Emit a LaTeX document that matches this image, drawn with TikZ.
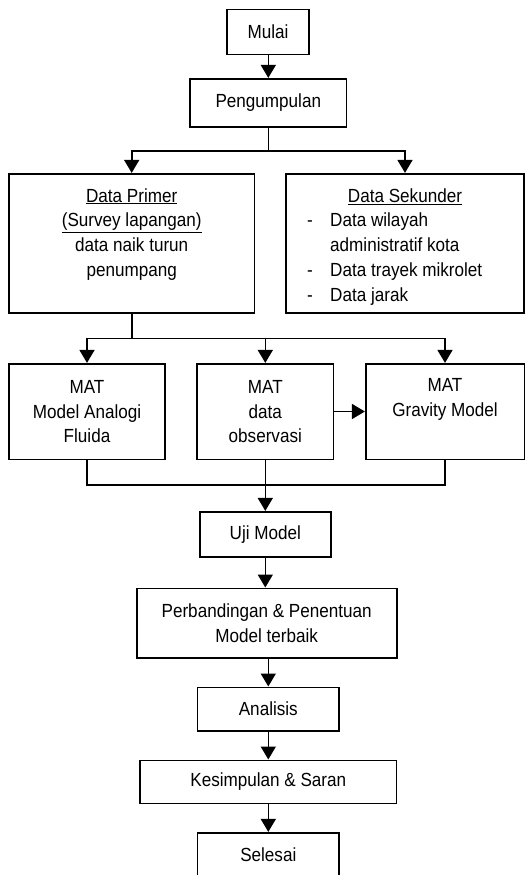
\documentclass[tikz,border=0pt]{standalone}
\usepackage{fontspec}
\setmainfont[FakeStretch=0.9]{Liberation Sans}
\usetikzlibrary{arrows.meta}
\begin{document}
\begin{tikzpicture}[x=1pt,y=-1pt,
  box/.style={draw, line width=1.6pt, inner sep=0pt},
  txt/.style={inner sep=0pt, align=center, font=\fontsize{19}{24.7}\selectfont},
  ln/.style={line width=1.6pt},
  arr/.style={line width=1.6pt, -{Triangle[width=15pt,length=13pt]}}]
\useasboundingbox (0,0) rectangle (526,875);
\clip (0,0) rectangle (526,875);
% boxes
\node[box, minimum width=82pt, minimum height=45pt] (mulai) at (268,32) {};
\node[txt] (tmulai) at (268,32) {Mulai};
\node[box, minimum width=156.7pt, minimum height=48pt] (peng) at (268.3,102.7) {};
\node[txt] (tpeng) at (268.3,102.7) {Pengumpulan};
\node[box, minimum width=245.3pt, minimum height=139pt] (primer) at (131.7,243.2) {};
\node[txt] (tprimer) at (131.7,234.2) {\underline{Data Primer}\\\underline{(Survey lapangan)}\\data naik turun\\penumpang};
\node[box, minimum width=238pt, minimum height=139pt] (sekunder) at (405,243.2) {};
\node[txt] (tsek) at (405,196.7) {\underline{Data Sekunder}};
\node[txt, align=left, anchor=north west] (tseklist) at (307,209.5) {%
\begin{tabular}{@{}p{23pt}@{}l@{}}
- & Data wilayah\\
 & administratif kota\\
- & Data trayek mikrolet\\
- & Data jarak
\end{tabular}};
\node[box, minimum width=155.7pt, minimum height=95.6pt] (mat1) at (87,411.5) {};
\node[txt] (tmat1) at (87,411.8) {MAT\\Model Analogi\\Fluida};
\node[box, minimum width=136.7pt, minimum height=95.6pt] (mat2) at (265.3,411.5) {};
\node[txt] (tmat2) at (265.3,411.8) {MAT\\data\\observasi};
\node[box, minimum width=158.6pt, minimum height=95.6pt] (mat3) at (445,411.5) {};
\node[txt] (tmat3) at (445,399.4) {MAT\\Gravity Model};
\node[box, minimum width=131pt, minimum height=45pt] (uji) at (265.3,534.2) {};
\node[txt] (tuji) at (265.3,534.2) {Uji Model};
\node[box, minimum width=260pt, minimum height=69.4pt] (perb) at (266.7,623) {};
\node[txt] (tperb) at (266.7,623.3) {Perbandingan \& Penentuan\\Model terbaik};
\node[box, minimum width=141.3pt, minimum height=43.4pt] (anal) at (268.3,709) {};
\node[txt] (tanal) at (268.3,709) {Analisis};
\node[box, minimum width=256.7pt, minimum height=43pt] (kes) at (268.3,781.8) {};
\node[txt] (tkes) at (268.3,781.8) {Kesimpulan \& Saran};
\node[box, minimum width=141.3pt, minimum height=50pt] (sel) at (268.3,857.7) {};
\node[txt] (tsel) at (268.3,855) {Selesai};
% connectors
\coordinate (s1) at (268.3,151);
\coordinate (s2) at (131.7,338.3);
\coordinate (j) at (265.3,485);
\draw[arr] (mulai.south -| peng.north) -- (peng.north);
\draw[ln] (peng.south) -- (s1);
\draw[arr] (s1) -| (primer.north);
\draw[arr] (s1) -| (sekunder.north);
\draw[ln] (primer.south) -- (s2);
\draw[arr] (s2) -| (mat1.north);
\draw[arr] (s2) -| (mat2.north);
\draw[arr] (s2) -| (mat3.north);
\draw[arr] (mat2.east) -- (mat3.west);
\draw[ln] (mat1.south) |- (j);
\draw[ln] (mat3.south) |- (j);
\draw[arr] (mat2.south) -- (uji.north);
\draw[arr] (uji.south) -- (uji.south |- perb.north);
\draw[arr] (perb.south -| anal.north) -- (anal.north);
\draw[arr] (anal.south) -- (kes.north);
\draw[arr] (kes.south) -- (sel.north);
\end{tikzpicture}
\end{document}
